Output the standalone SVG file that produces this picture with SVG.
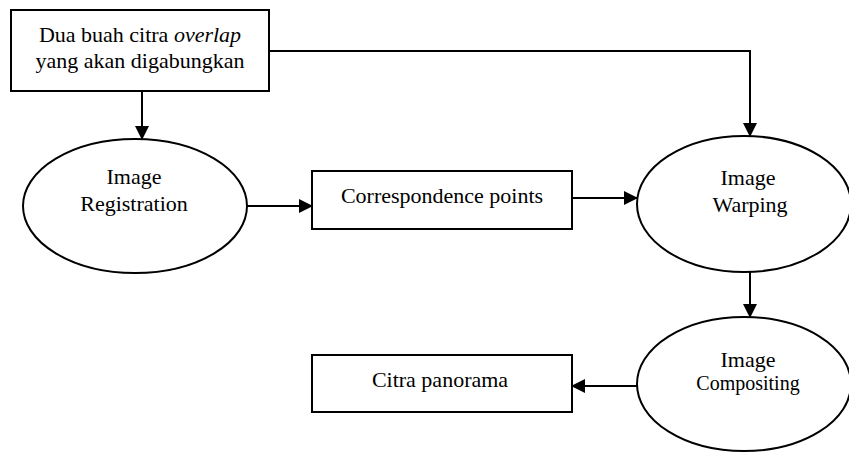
<svg xmlns="http://www.w3.org/2000/svg" width="849" height="452" viewBox="0 0 849 452">
<style>
.box{fill:#fff;stroke:#000;stroke-width:2}
.ell{fill:#fff;stroke:#000;stroke-width:2}
.t{font-size:22px;fill:#000;text-anchor:middle}
.c{fill:none;stroke:#000;stroke-width:2}
</style>
<defs>
<marker id="ah" markerUnits="userSpaceOnUse" markerWidth="14" markerHeight="14" viewBox="0 0 14 14" refX="13" refY="7" orient="auto">
<path d="M0,0 L14,7 L0,14 z" fill="#000"/>
</marker>
</defs>
<rect width="849" height="452" fill="#fff"/>
<g id="connectors">
<line class="c" x1="142" y1="91" x2="142" y2="139" marker-end="url(#ah)"/>
<polyline class="c" points="269,51 750,51 750,136" marker-end="url(#ah)"/>
<line class="c" x1="247" y1="206" x2="312" y2="206" marker-end="url(#ah)"/>
<line class="c" x1="572" y1="198" x2="637" y2="198" marker-end="url(#ah)"/>
<line class="c" x1="750" y1="272" x2="750" y2="317" marker-end="url(#ah)"/>
<line class="c" x1="637" y1="386" x2="572" y2="386" marker-end="url(#ah)"/>
</g>
<g id="nodes" font-family="'Liberation Serif', 'DejaVu Serif', serif">
<g id="input">
<rect class="box" x="11" y="10" width="258" height="81"/>
<text class="t" x="140" y="42">Dua buah citra <tspan font-style="italic">overlap</tspan></text>
<text class="t" x="140" y="68">yang akan digabungkan</text>
</g>
<g id="registration">
<ellipse class="ell" cx="135" cy="206" rx="112" ry="67"/>
<text class="t" x="134" y="184">Image</text>
<text class="t" x="134" y="211">Registration</text>
</g>
<g id="correspondence">
<rect class="box" x="312" y="171" width="260" height="58"/>
<text class="t" x="442" y="203">Correspondence points</text>
</g>
<g id="warping">
<ellipse class="ell" cx="744" cy="204" rx="107" ry="68"/>
<text class="t" x="748" y="185">Image</text>
<text class="t" x="750" y="212">Warping</text>
</g>
<g id="compositing">
<ellipse class="ell" cx="744" cy="384" rx="107" ry="67"/>
<text class="t" x="748" y="367">Image</text>
<text class="t" x="748" y="390" style="font-size:20px">Compositing</text>
</g>
<g id="panorama">
<rect class="box" x="312" y="355" width="260" height="57"/>
<text class="t" x="440" y="387">Citra panorama</text>
</g>
</g>
</svg>
